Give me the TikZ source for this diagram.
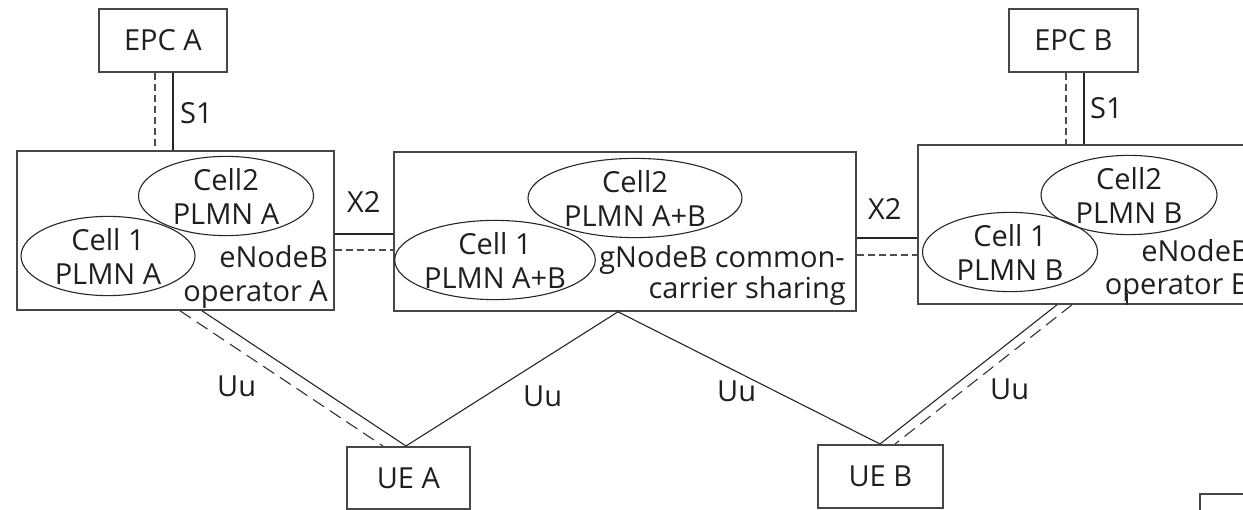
\documentclass[tikz,border=0pt]{standalone}
\usepackage{fontspec}
\setmainfont{Open Sans}
\usetikzlibrary{shapes.geometric}
\tikzset{
  box/.style={draw=black!72, line width=1.8pt, inner sep=0pt, anchor=north west, text=black!88},
  cell/.style={draw=black!85, line width=1.1pt, ellipse, inner sep=0pt, align=center, text=black!88},
  lbl/.style={inner sep=0pt, text=black!88},
  link/.style={draw=black!85, line width=1.1pt},
  dlink/.style={draw=black!70, line width=1.1pt, dash pattern=on 7pt off 4pt},
  dlong/.style={draw=black!80, line width=1.1pt, dash pattern=on 13pt off 7pt},
}
\begin{document}
\begin{tikzpicture}[x=1pt,y=-1pt, font=\fontsize{29}{34}\selectfont]
\useasboundingbox (0,0) rectangle (1243,510);
\clip (0,0) rectangle (1243,510);
% boxes
\node[box, minimum width=128, minimum height=63] (epcA) at (98,8) {EPC A};
\node[box, minimum width=129, minimum height=63] (epcB) at (1008,8) {EPC B};
\node[box, minimum width=317, minimum height=159] (enbA) at (16,150) {};
\node[box, minimum width=462, minimum height=159] (gnb) at (393,151) {};
\node[box, minimum width=343, minimum height=159] (enbB) at (917,144) {};
\node[box, minimum width=123, minimum height=62] (ueA) at (346,446) {UE A};
\node[box, minimum width=125, minimum height=63] (ueB) at (817,444) {UE B};
\node[box, minimum width=100, minimum height=60] (extra) at (1199,493) {};
% cells
\node[cell, minimum width=175, minimum height=75] (c2A) at (226,196) {Cell2\\PLMN A};
\node[cell, minimum width=174, minimum height=76] (c1A) at (108,256) {Cell 1\\PLMN A};
\node[cell, minimum width=214, minimum height=67] (c2AB) at (635,198) {Cell2\\PLMN A+B};
\node[cell, minimum width=196, minimum height=67] (c1AB) at (495,260) {Cell 1\\PLMN A+B};
\node[cell, minimum width=176, minimum height=66] (c2B) at (1129,195) {Cell2\\PLMN B};
\node[cell, minimum width=175, minimum height=77] (c1B) at (1010,252) {Cell 1\\PLMN B};
% box texts
\node[lbl, anchor=base east] (tA1) at (328,268) {eNodeB};
\node[lbl, anchor=base east] (tA2) at (328,302) {operator A};
\node[lbl, anchor=base east] (tG1) at (845,268) {gNodeB common-};
\node[lbl, anchor=base east] (tG2) at (846,299) {carrier sharing};
\node[lbl, anchor=base east] (tB1) at (1250,262) {eNodeB};
\node[lbl, anchor=base east] (tB2) at (1250,295) {operator B};
% link labels
\node[lbl, anchor=base west] (s1A) at (180,124) {S1};
\node[lbl, anchor=base west] (s1B) at (1090,119) {S1};
\node[lbl, anchor=base west] (x2L) at (347,213) {X2};
\node[lbl, anchor=base west] (x2R) at (868,220) {X2};
\node[lbl, anchor=base west] (uu1) at (217,397) {Uu};
\node[lbl, anchor=base west] (uu2) at (523,407) {Uu};
\node[lbl, anchor=base west] (uu3) at (717,402) {Uu};
\node[lbl, anchor=base west] (uu4) at (990,400) {Uu};
% S1
\draw[dlink] ([xshift=57]epcA.south west) -- ([xshift=139]enbA.north west);
\draw[link] ([xshift=75]epcA.south west) -- ([xshift=157]enbA.north west);
\draw[dlink] ([xshift=58]epcB.south west) -- ([xshift=149]enbB.north west);
\draw[link] ([xshift=76]epcB.south west) -- ([xshift=167]enbB.north west);
% X2
\draw[link] ([yshift=-84]enbA.north east) -- ([yshift=-83]gnb.north west);
\draw[dlink] ([yshift=-100]enbA.north east) -- ([yshift=-99]gnb.north west);
\draw[link] ([yshift=-87]gnb.north east) -- ([yshift=-94]enbB.north west);
\draw[dlink] ([yshift=-104]gnb.north east) -- ([yshift=-111]enbB.north west);
% Uu
\draw[dlong] ([xshift=164]enbA.south west) -- ([xshift=37]ueA.north west);
\draw[link] ([xshift=186]enbA.south west) -- ([xshift=60]ueA.north west);
\draw[link] ([xshift=225]gnb.south west) -- ([xshift=60]ueA.north west);
\draw[link] ([xshift=225]gnb.south west) -- ([xshift=63]ueB.north west);
\draw[link] ([xshift=140]enbB.south west) -- ([xshift=63]ueB.north west);
\draw[dlong] ([xshift=155]enbB.south west) -- ([xshift=78]ueB.north west);
% small tick
\coordinate (tick) at (1127,293);
\draw[link] (tick) -- (tick |- enbB.south);
\end{tikzpicture}
\end{document}
